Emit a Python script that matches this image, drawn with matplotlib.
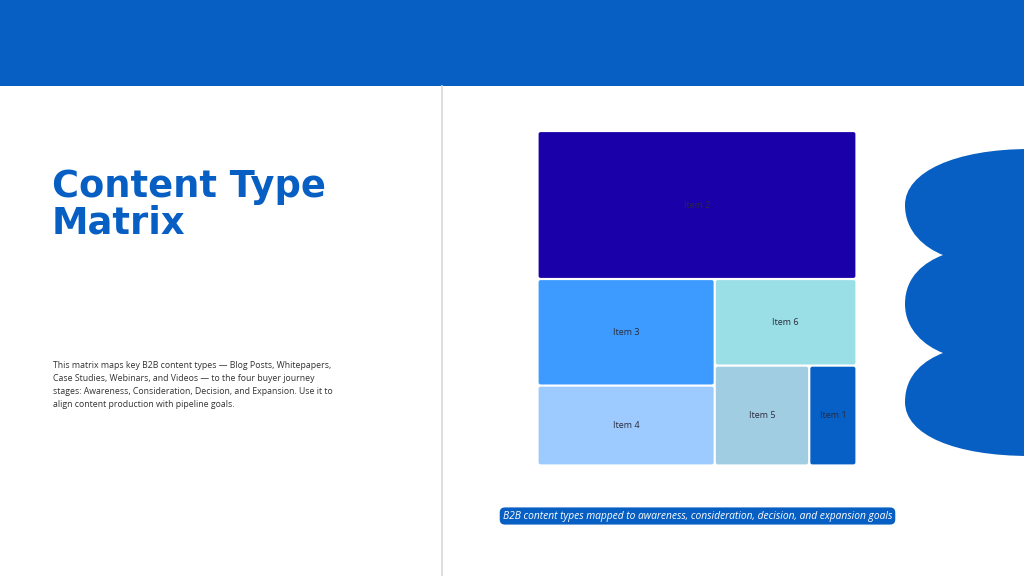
import matplotlib
matplotlib.use("Agg")
import matplotlib.pyplot as plt
from matplotlib.patches import FancyBboxPatch, Rectangle, PathPatch
from matplotlib.path import Path

# treemap data
labels = ["Item 1", "Item 2", "Item 3", "Item 4", "Item 5", "Item 6"]
values = [10, 100, 40, 30, 20, 26]
tile_colors = ["#0660C6", "#1A00A8", "#3D9BFF", "#9DCBFF", "#A1CDE3", "#9ADFE6"]

title = "Content Type\nMatrix"
body = ("This matrix maps key B2B content types \u2014 Blog Posts, Whitepapers,\n"
        "Case Studies, Webinars, and Videos \u2014 to the four buyer journey\n"
        "stages: Awareness, Consideration, Decision, and Expansion. Use it to\n"
        "align content production with pipeline goals.")
caption = "B2B content types mapped to awareness, consideration, decision, and expansion goals"

BLUE = "#075FC3"


def binary_tiles(vals, x0, y0, x1, y1):
    "binary treemap tiling (same idea as d3.treemapBinary)"
    sums = [0]
    for v in vals:
        sums.append(sums[-1] + v)
    out = [None] * len(vals)

    def part(i, j, value, x0, y0, x1, y1):
        if i >= j - 1:
            out[i] = (x0, y0, x1, y1)
            return
        off = sums[i]
        target = value / 2 + off
        k, hi = i + 1, j - 1
        while k < hi:
            mid = (k + hi) // 2
            if sums[mid] < target:
                k = mid + 1
            else:
                hi = mid
        if target - sums[k - 1] < sums[k] - target and i + 1 < k:
            k -= 1
        left = sums[k] - off
        right = value - left
        if (x1 - x0) > (y1 - y0):
            xk = (x0 * right + x1 * left) / value
            part(i, k, left, x0, y0, xk, y1)
            part(k, j, right, xk, y0, x1, y1)
        else:
            yk = (y0 * right + y1 * left) / value
            part(i, k, left, x0, y0, x1, yk)
            part(k, j, right, x0, yk, x1, y1)

    part(0, len(vals), sums[-1], x0, y0, x1, y1)
    return out


fig = plt.figure(figsize=(10.24, 5.76), dpi=100)
ax = fig.add_axes([0, 0, 1, 1])
ax.set_xlim(0, 1024)
ax.set_ylim(576, 0)
ax.axis("off")

# header band and divider
ax.add_patch(Rectangle((0, 0), 1024, 86, color=BLUE, lw=0))
ax.plot([442, 442], [86, 576], color="#D9D9D9", lw=1.2)

# left text
ax.text(52, 205, title, fontsize=26.5, fontweight="bold", color=BLUE,
        family="DejaVu Sans", va="center", ha="left", linespacing=1.0)
ax.text(53, 385, body, fontsize=6.3, color="#333333", family="Open Sans",
        va="center", ha="left", linespacing=1.6)

# decorative scalloped shape on the right
verts = [(1030, 149),
         (955, 149), (905, 172), (905, 205),
         (905, 232), (925, 248), (943, 255),
         (925, 262), (905, 276), (905, 304),
         (905, 330), (925, 346), (943, 353),
         (925, 360), (905, 374), (905, 402),
         (905, 435), (955, 456), (1030, 456),
         (1030, 149)]
codes = [Path.MOVETO] + [Path.CURVE4] * 18 + [Path.CLOSEPOLY]
ax.add_patch(PathPatch(Path(verts, codes), color=BLUE, lw=0))

# treemap
order = sorted(range(len(values)), key=lambda i: -values[i])
rects = binary_tiles([values[i] for i in order], 537.5, 131, 856.5, 465.5)
gap = 1.1
for idx, (x0, y0, x1, y1) in zip(order, rects):
    ax.add_patch(FancyBboxPatch((x0 + gap, y0 + gap), x1 - x0 - 2 * gap, y1 - y0 - 2 * gap,
                                boxstyle="round,pad=0,rounding_size=2",
                                fc=tile_colors[idx], ec="none"))
    ax.text((x0 + x1) / 2, (y0 + y1) / 2, labels[idx], fontsize=6.5, color="#2A2A3A",
            family="Open Sans", ha="center", va="center")

# caption pill
ax.text(697.5, 516, caption, fontsize=7.4, style="italic", color="white",
        family="Open Sans", ha="center", va="center",
        bbox=dict(boxstyle="round,pad=0.3,rounding_size=0.5", fc=BLUE, ec="none"))

fig.savefig("out.png", dpi=100)
